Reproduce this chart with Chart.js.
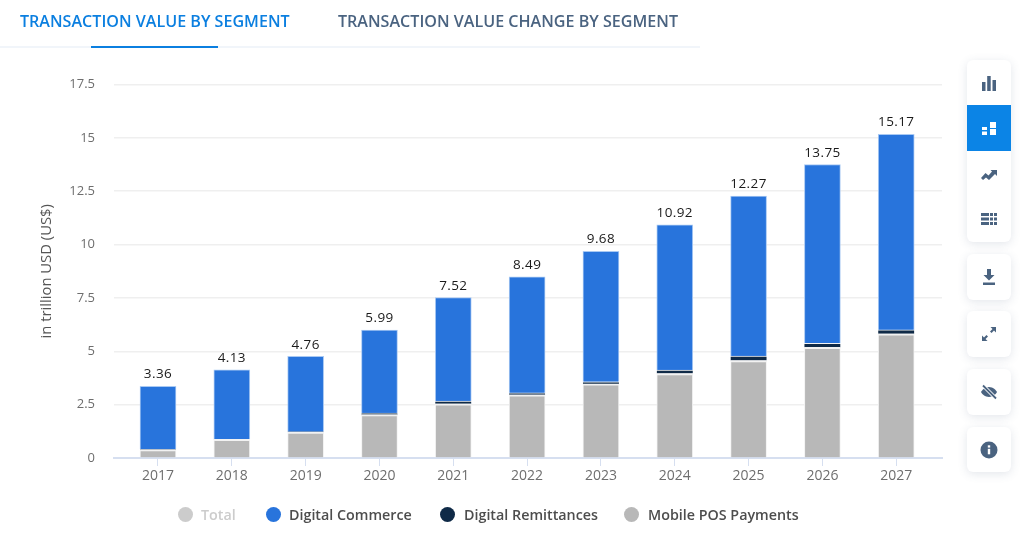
<!DOCTYPE html>
<html>
<head>
<meta charset="utf-8">
<title>Transaction value by segment</title>
<script src="https://cdn.jsdelivr.net/npm/chart.js@4"></script>
<style>
  html, body { margin: 0; padding: 0; background: #fff; overflow: hidden; }
  body { width: 1024px; height: 549px; position: relative; font-family: "Open Sans", sans-serif; }
  canvas { position: absolute; left: 0; top: 0; }
  .tab { position: absolute; top: 11px; font-size: 16.1px; font-weight: 600; line-height: 21px; white-space: nowrap; color: #4a6380; }
  .tab.on { color: #0b7fe0; }
  #tabLine { position: absolute; left: 0; top: 46px; width: 700px; height: 2px; background: #f1f5fa; }
  #tabMark { position: absolute; left: 91px; top: 46px; width: 127px; height: 2px; background: #0b7fe0; }
  .tool { position: absolute; left: 967px; width: 44px; background: #fff; border-radius: 6px; box-shadow: 0 2px 10px rgba(80,100,130,.16); }
  .tool svg { position: absolute; left: 13px; width: 18px; height: 18px; fill: #4a6380; }
  .tool .active { position: absolute; left: 0; top: 45px; width: 44px; height: 46px; background: #0b84e6; }
  .tool .active svg { left: 13px; top: 14px; fill: #fff; }
  .leg { position: absolute; top: 505px; font-size: 14.3px; font-weight: 600; line-height: 19px; color: #4d4d4d; white-space: nowrap; }
  .dot { position: absolute; top: 507px; width: 15px; height: 15px; border-radius: 50%; }
</style>
</head>
<body>
<canvas id="segmentChart" width="1024" height="549"></canvas>

<div id="tabLine"></div>
<div id="tabMark"></div>
<div class="tab on" style="left:20px">TRANSACTION VALUE BY SEGMENT</div>
<div class="tab" style="left:338px">TRANSACTION VALUE CHANGE BY SEGMENT</div>

<div class="tool" style="top:60px;height:182px">
  <svg style="top:14px" viewBox="0 0 18 18"><path d="M2 8h3.500v9H2zM7.200 2h3.500v15H7.200zM12.500 6H16v11h-3.500z"/></svg>
  <div class="active"><svg viewBox="0 0 18 18"><path d="M2 8h5v3H2zM2 12.500h5V16H2zM10 3h6v6h-6zM10 10h6v6h-6z"/></svg></div>
  <svg style="top:105px" viewBox="0 0 18 18"><path d="M1 13l4.500-5 3 2.500L12 6.500l-1.500-1.500H17v6l-2-2-6 6-3-2.500L3 15z"/></svg>
  <svg style="top:150px" viewBox="0 0 18 18"><path d="M1 3h8v3H1zM10 3h3v3h-3zM14 3h3v3h-3zM1 7.500h8v3H1zM10 7.500h3v3h-3zM14 7.500h3v3h-3zM1 12h8v3H1zM10 12h3v3h-3zM14 12h3v3h-3z"/></svg>
</div>
<div class="tool" style="top:254px;height:46px">
  <svg style="top:14px" viewBox="0 0 18 18"><path d="M7 1h4v6h3.500L9 12.500 3.500 7H7zM3 14.500h12V17H3z"/></svg>
</div>
<div class="tool" style="top:311px;height:46px">
  <svg style="top:14px" viewBox="0 0 18 18"><path d="M10.500 2H16v5.500l-2-2-2.500 2.500-1.500-1.500L12.500 4zM7.500 16H2v-5.500l2 2L6.500 10 8 11.500 5.500 14z"/></svg>
</div>
<div class="tool" style="top:369px;height:46px">
  <svg style="top:14px" viewBox="0 0 18 18"><path d="M9 4c4 0 7 3 8 5-1 2-4 5-8 5s-7-3-8-5c1-2 4-5 8-5z"/><path d="M3 2.500l13 13" stroke="#fff" stroke-width="3.500"/><path d="M3 2.500l13 13" stroke="#4a6380" stroke-width="1.800"/></svg>
</div>
<div class="tool" style="top:427px;height:45px">
  <svg style="top:14px" viewBox="0 0 18 18"><circle cx="9" cy="9" r="8.500"/><rect x="7.800" y="7.800" width="2.400" height="5.500" fill="#fff"/><rect x="7.800" y="4.300" width="2.400" height="2.300" fill="#fff"/></svg>
</div>

<span class="dot" style="left:178px;background:#cccccc"></span>
<span class="leg" style="left:201px;color:#cccccc">Total</span>
<span class="dot" style="left:266px;background:#2874dc"></span>
<span class="leg" style="left:289px">Digital Commerce</span>
<span class="dot" style="left:440px;background:#0f2a47"></span>
<span class="leg" style="left:464px">Digital Remittances</span>
<span class="dot" style="left:624px;background:#b8b8b8"></span>
<span class="leg" style="left:648px">Mobile POS Payments</span>

<script>
const years = [2017, 2018, 2019, 2020, 2021, 2022, 2023, 2024, 2025, 2026, 2027];
const totalValues = [3.36, 4.13, 4.76, 5.99, 7.52, 8.49, 9.68, 10.92, 12.27, 13.75, 15.17];
const mobilePosValues = [0.40, 0.87, 1.22, 2.03, 2.54, 2.96, 3.47, 3.96, 4.57, 5.18, 5.82];
const remittanceValues = [0.01, 0.01, 0.01, 0.07, 0.13, 0.09, 0.10, 0.16, 0.20, 0.19, 0.18];
const commerceValues = [2.95, 3.25, 3.53, 3.89, 4.85, 5.44, 6.11, 6.80, 7.50, 8.38, 9.17];
const yTicks = [0, 2.5, 5, 7.5, 10, 12.5, 15, 17.5];

const FONT = '"Open Sans", sans-serif';
const AXIS_BLUE = '#d6dff0';

// writes the total above each stack
const totalLabels = {
    id: 'totalLabels',
    afterDatasetsDraw(chart) {
        const ctx = chart.ctx;
        const points = chart.getDatasetMeta(3).data;
        ctx.save();
        ctx.font = '500 13.5px ' + FONT;
        ctx.letterSpacing = '0.4px';
        ctx.fillStyle = '#1a1a1a';
        ctx.textAlign = 'center';
        ctx.textBaseline = 'bottom';
        points.forEach((pt, i) => {
            ctx.fillText(totalValues[i].toFixed(2), pt.x, pt.y - 5);
        });
        ctx.restore();
    }
};

new Chart(document.getElementById('segmentChart'), {
    type: 'bar',
    data: {
        labels: years,
        datasets: [
            { label: 'Mobile POS Payments', data: mobilePosValues, backgroundColor: '#b8b8b8', borderColor: '#f2f2f2', borderWidth: { top: 2, left: 1, right: 1 }, barThickness: 36 },
            { label: 'Digital Remittances', data: remittanceValues, backgroundColor: '#0f2a47', borderColor: '#f2f2f2', borderWidth: { top: 1 }, barThickness: 36 },
            { label: 'Digital Commerce', data: commerceValues, backgroundColor: '#2874dc', borderColor: '#a9c9f3', borderWidth: 1, barThickness: 36 },
            { type: 'line', label: 'Total', data: totalValues, stack: 'total', showLine: false, pointRadius: 0 }
        ]
    },
    plugins: [totalLabels],
    options: {
        responsive: false,
        animation: false,
        layout: { padding: { top: 84.5, right: 82, bottom: 0, left: 0 } },
        plugins: { legend: { display: false }, tooltip: { enabled: false } },
        scales: {
            x: {
                type: 'linear',
                stacked: true,
                offset: false,
                min: 2016.404,
                max: 2027.62,
                afterFit(scale) { scale.height = 91; },
                afterBuildTicks(scale) { scale.ticks = years.map(y => ({ value: y })); },
                ticks: {
                    autoSkip: false,
                    maxRotation: 0,
                    padding: 2,
                    color: '#6e6e6e',
                    font: { family: FONT, size: 14 },
                    callback: v => String(v)
                },
                grid: { offset: false, drawOnChartArea: false, drawTicks: true, tickLength: 8, color: AXIS_BLUE },
                border: { color: AXIS_BLUE, width: 2 }
            },
            y: {
                stacked: true,
                min: 0,
                max: 17.5,
                afterFit(scale) { scale.width = 114; },
                afterBuildTicks(scale) { scale.ticks = yTicks.map(v => ({ value: v })); },
                ticks: {
                    padding: 19,
                    color: '#6e6e6e',
                    font: { family: FONT, size: 13 },
                    callback: v => String(v)
                },
                title: {
                    display: true,
                    text: 'in trillion USD (US$)',
                    color: '#555555',
                    font: { family: FONT, size: 14.8 },
                    padding: { top: 38, bottom: 0 }
                },
                grid: { color: '#efefef', lineWidth: 1.5, drawTicks: false },
                border: { display: false }
            }
        }
    }
});
</script>
</body>
</html>
